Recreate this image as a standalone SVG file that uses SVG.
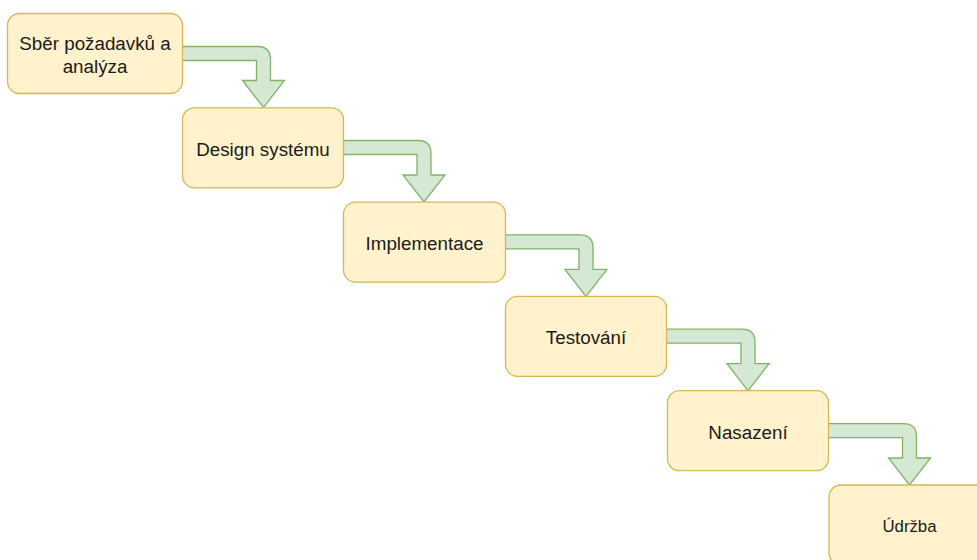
<svg xmlns="http://www.w3.org/2000/svg" width="977" height="560" viewBox="0 0 977 560">
  <style>
    .step rect { fill: #fff2cc; stroke: #d6b656; stroke-width: 1.3; }
    .step text { font-family: "Liberation Sans", Arial, sans-serif; font-size: 18.8px; fill: #1a1a1a; text-anchor: middle; dominant-baseline: central; }
    .flow path { fill: #d5e8d4; stroke: #82b366; stroke-width: 1.3; stroke-linejoin: miter; }
  </style>
  <rect width="977" height="560" fill="#ffffff"/>

  <!-- flex arrows between consecutive phases -->
  <g id="connectors" class="flow">
    <path d="M182.5,46.5 H257.5 Q270.5,46.5 270.5,59.5 V80.5 H284.5 L263.5,107.5 L242.5,80.5 H256.5 V60.5 H182.5"/>
    <path d="M343.5,140.5 H418 Q431,140.5 431,153.5 V175 H445 L424,202 L403,175 H417 V154.5 H343.5"/>
    <path d="M505.5,234.8 H580 Q593,234.8 593,247.8 V269.4 H607 L586,296.4 L565,269.4 H579 V248.8 H505.5"/>
    <path d="M666.5,329.2 H742 Q755,329.2 755,342.2 V363.7 H769 L748,390.7 L727,363.7 H741 V343.2 H666.5"/>
    <path d="M828.5,423.6 H903.5 Q916.5,423.6 916.5,436.6 V458 H930.5 L909.5,485 L888.5,458 H902.5 V437.6 H828.5"/>
  </g>

  <g id="node-analysis" class="step">
    <rect x="7.5" y="13.5" width="175" height="80" rx="12"/>
    <text x="95" y="43">Sběr požadavků a</text>
    <text x="95" y="66">analýza</text>
  </g>
  <g id="node-design" class="step">
    <rect x="182.5" y="107.8" width="161" height="80" rx="12"/>
    <text x="263" y="149">Design systému</text>
  </g>
  <g id="node-implementation" class="step">
    <rect x="343.5" y="202.1" width="162" height="80" rx="12"/>
    <text x="424.5" y="243">Implementace</text>
  </g>
  <g id="node-testing" class="step">
    <rect x="505.5" y="296.4" width="161" height="80" rx="12"/>
    <text x="586" y="337.5">Testování</text>
  </g>
  <g id="node-deployment" class="step">
    <rect x="667.5" y="390.7" width="161" height="80" rx="12"/>
    <text x="748" y="432">Nasazení</text>
  </g>
  <g id="node-maintenance" class="step">
    <rect x="829" y="485" width="161" height="80" rx="12"/>
    <text x="909.5" y="526" style="font-size:16.8px">Údržba</text>
  </g>
</svg>
